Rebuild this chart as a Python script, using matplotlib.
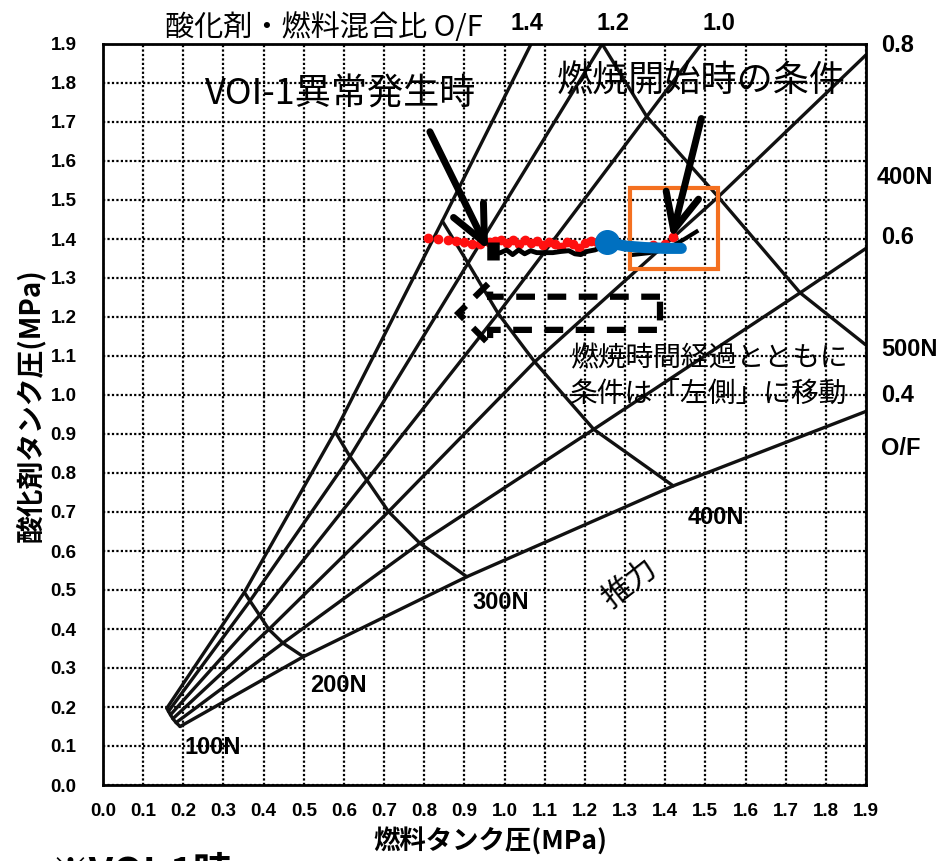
import numpy as np
import matplotlib
matplotlib.use("Agg")
import matplotlib.pyplot as plt
from matplotlib.patches import Rectangle, Polygon

plt.rcParams['font.family'] = ['Noto Sans CJK JP', 'DejaVu Sans']

nan = np.nan

# Thrust levels and mixture ratios of the performance map
thrust_levels = ['100N', '200N', '300N', '400N', '500N']
of_values = ['1.4', '1.2', '1.0', '0.8', '0.6', '0.4']

# Fuel / oxidizer tank pressure (MPa) where each O/F line crosses each thrust level
fuel_of14 = [0.159, 0.352, 0.578, 0.845, nan]
ox_of14 = [0.197, 0.494, 0.906, 1.446, nan]
fuel_of12 = [0.163, 0.366, 0.615, 0.909, 1.243]
ox_of12 = [0.189, 0.472, 0.842, 1.338, 1.900]
fuel_of10 = [0.168, 0.390, 0.657, 0.984, 1.354]
ox_of10 = [0.180, 0.435, 0.782, 1.209, 1.714]
fuel_of08 = [0.174, 0.413, 0.711, 1.075, 1.532]
ox_of08 = [0.170, 0.399, 0.701, 1.085, 1.508]
fuel_of06 = [0.182, 0.448, 0.789, 1.222, 1.736]
ox_of06 = [0.160, 0.364, 0.620, 0.912, 1.262]
fuel_of04 = [0.192, 0.499, 0.906, 1.420, nan]
ox_of04 = [0.150, 0.329, 0.534, 0.767, nan]

# Where each O/F line leaves the chart area
edge_fuel = [1.066, 1.243, 1.490, 1.900, 1.900, 1.900]
edge_ox = [1.900, 1.900, 1.900, 1.872, 1.376, 0.958]

# 500N curve continues to the right border
arc500_edge_fuel = 1.900
arc500_edge_ox = 1.128

# Operating history: red dotted record, black record, blue record
red_fuel = [0.810, 0.835, 0.860, 0.880, 0.900, 0.920, 0.940, 0.960, 0.975, 0.990,
            1.005, 1.020, 1.035, 1.050, 1.065, 1.080, 1.095, 1.110, 1.125, 1.140,
            1.155, 1.170, 1.185, 1.200, 1.215, 1.230, 1.250, 1.370, 1.400, 1.420]
red_ox = [1.403, 1.400, 1.398, 1.396, 1.392, 1.388, 1.386, 1.392, 1.395, 1.398,
          1.390, 1.397, 1.388, 1.398, 1.389, 1.395, 1.385, 1.392, 1.386, 1.380,
          1.393, 1.386, 1.376, 1.390, 1.395, 1.392, 1.390, 1.384, 1.386, 1.405]
black_fuel = [0.975, 0.990, 1.005, 1.020, 1.035, 1.050, 1.065, 1.080, 1.120, 1.140,
              1.160, 1.175, 1.190, 1.205, 1.225, 1.240]
black_ox = [1.362, 1.365, 1.372, 1.360, 1.372, 1.362, 1.370, 1.365, 1.365, 1.368,
            1.370, 1.362, 1.360, 1.368, 1.372, 1.378]
black_end_fuel = [1.316, 1.360, 1.400, 1.445, 1.478]
black_end_ox = [1.359, 1.364, 1.372, 1.398, 1.419]
blue_fuel = [1.255, 1.300, 1.350, 1.400, 1.440]
blue_ox = [1.392, 1.382, 1.378, 1.376, 1.376]

fuel_tbl = [fuel_of14, fuel_of12, fuel_of10, fuel_of08, fuel_of06, fuel_of04]
ox_tbl = [ox_of14, ox_of12, ox_of10, ox_of08, ox_of06, ox_of04]

W, H = 947, 861
fig = plt.figure(figsize=(W / 100, H / 100), dpi=100)
ax = fig.add_axes([103 / W, 1 - 785 / H, 763 / W, 741 / H])
ax.set_xlim(0, 1.9)
ax.set_ylim(0, 1.9)

ticks = np.round(np.arange(0, 1.91, 0.1), 1)
ax.set_xticks(ticks)
ax.set_yticks(ticks)
tick_font = dict(family=['Liberation Sans', 'DejaVu Sans'], weight='bold', size=13.5)
ax.set_xticklabels([f'{t:.1f}' for t in ticks], **tick_font)
ax.set_yticklabels([f'{t:.1f}' for t in ticks], **tick_font)
ax.tick_params(length=0, pad=19)
ax.tick_params(axis='x', pad=13)
ax.grid(True, color='black', linestyle=(0, (1, 1)), linewidth=1.6)
ax.set_axisbelow(True)
for sp in ax.spines.values():
    sp.set_linewidth(2)

line_kw = dict(color='#111111', linewidth=2.4, solid_capstyle='round', clip_on=True, zorder=2)

# constant O/F lines
for i in range(len(of_values)):
    xs = [v for v in fuel_tbl[i] if not np.isnan(v)] + [edge_fuel[i]]
    ys = [v for v in ox_tbl[i] if not np.isnan(v)] + [edge_ox[i]]
    ax.plot(xs, ys, **line_kw)

# constant thrust curves
for j in range(len(thrust_levels)):
    xs = [fuel_tbl[i][j] for i in range(len(of_values)) if not np.isnan(fuel_tbl[i][j])]
    ys = [ox_tbl[i][j] for i in range(len(of_values)) if not np.isnan(ox_tbl[i][j])]
    if thrust_levels[j] == '500N':
        xs.append(arc500_edge_fuel)
        ys.append(arc500_edge_ox)
    ax.plot(xs, ys, **line_kw)

# operating history
ax.plot(red_fuel, red_ox, linestyle='none', marker='o', markersize=6,
        color='#FF1010', zorder=5)
ax.plot(black_fuel, black_ox, color='black', linewidth=3.5, zorder=6)
ax.plot([0.972, 0.972], [1.345, 1.392], color='black', linewidth=9, zorder=6,
        solid_capstyle='butt')
ax.plot(black_end_fuel, black_end_ox, color='black', linewidth=3, zorder=6)
ax.plot(blue_fuel, blue_ox, color='#0070C0', linewidth=8, solid_capstyle='round', zorder=7)
ax.plot(blue_fuel[:1], blue_ox[:1], linestyle='none', marker='o', markersize=17,
        color='#0070C0', zorder=8)

# start-of-burn condition box
ax.add_patch(Rectangle((1.312, 1.324), 0.220, 0.206, fill=False,
                       edgecolor='#F47020', linewidth=3, zorder=6))

# dashed block arrow pointing left
ax.add_patch(Polygon([(1.387, 1.252), (0.964, 1.252), (0.964, 1.290), (0.885, 1.210),
                      (0.964, 1.128), (0.964, 1.167), (1.387, 1.167)], closed=True,
                     fill=False, edgecolor='black', linewidth=4.5,
                     linestyle=(0, (3, 2)), zorder=6))

# arrows from the callouts
arrow_kw = dict(arrowstyle='->,head_length=1.3,head_width=0.6', color='black',
                linewidth=5, mutation_scale=20, shrinkA=0, shrinkB=0)
ax.annotate('', xy=(0.959, 1.372), xytext=(0.814, 1.675), arrowprops=arrow_kw, zorder=9)
ax.annotate('', xy=(1.416, 1.402), xytext=(1.490, 1.709), arrowprops=arrow_kw, zorder=9)

# in-plot text
lbl_font = dict(family=['Liberation Sans', 'DejaVu Sans'], fontsize=17, fontweight='bold')
ax.text(0.204, 0.095, '100N', va='center', ha='left', **lbl_font)
ax.text(0.515, 0.256, '200N', va='center', ha='left', **lbl_font)
ax.text(0.921, 0.467, '300N', va='center', ha='left', **lbl_font)
ax.text(1.457, 0.687, '400N', va='center', ha='left', **lbl_font)
ax.text(1.312, 0.515, '推力', fontsize=22, rotation=38, va='center', ha='center')
ax.text(1.163, 1.095, '燃焼時間経過とともに', fontsize=20, va='center', ha='left')
ax.text(1.163, 1.000, '条件は「左側」に移動', fontsize=20, va='center', ha='left')

# text outside the axes (figure pixel positions)
def ftext(px, py, s, **kw):
    fig.text(px / W, 1 - py / H, s, **kw)

num_font = dict(family=['Liberation Sans', 'DejaVu Sans'], fontsize=17, fontweight='bold')
ftext(165, 28, '酸化剤・燃料混合比 O/F', fontsize=21, va='center', ha='left')
ftext(527, 24, '1.4', ha='center', va='center', **num_font)
ftext(613, 24, '1.2', ha='center', va='center', **num_font)
ftext(719, 24, '1.0', ha='center', va='center', **num_font)
ftext(881, 45, '0.8', ha='left', va='center', **num_font)
ftext(877, 178, '400N', ha='left', va='center', **num_font)
ftext(881, 237, '0.6', ha='left', va='center', **num_font)
ftext(881, 350, '500N', ha='left', va='center', **num_font)
ftext(881, 395, '0.4', ha='left', va='center', **num_font)
ftext(881, 448, 'O/F', ha='left', va='center', **num_font)

ftext(205, 95, 'VOI-1異常発生時', fontsize=26, va='center', ha='left')
ftext(557, 82, '燃焼開始時の条件', fontsize=26, va='center', ha='left')

ftext(30, 405, '酸化剤タンク圧(MPa)', fontsize=20, fontweight='bold', rotation=90,
      va='center', ha='center')
ftext(490, 842, '燃料タンク圧(MPa)', fontsize=19, fontweight='bold',
      va='center', ha='center')
ftext(50, 854, '※VOI-1時', fontsize=28, fontweight='bold', va='top', ha='left')

fig.savefig('out.png', dpi=100)
